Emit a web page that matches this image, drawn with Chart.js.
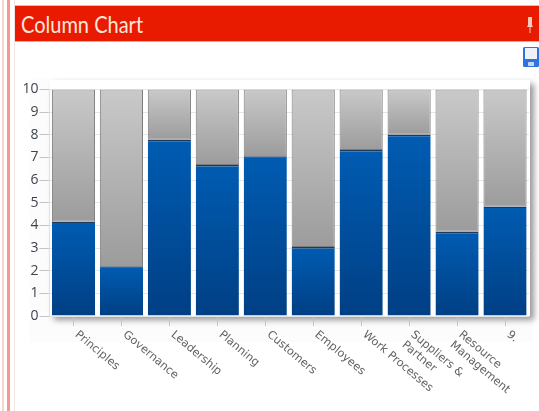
<!DOCTYPE html>
<html>
<head>
<meta charset="utf-8">
<title>Column Chart</title>
<script src="https://cdn.jsdelivr.net/npm/chart.js@4/dist/chart.umd.min.js"></script>
<style>
  html, body { margin: 0; padding: 0; background: #fff; overflow: hidden; }
  #page { position: relative; width: 539px; height: 411px; overflow: hidden; }
  #edgeA { position: absolute; left: 2px; top: 0; width: 2px; height: 411px; background: #f6d5d0; }
  #edgeB { position: absolute; left: 7px; top: 0; width: 3px; height: 411px; background: #f59a8e; }
  #edgeC { position: absolute; left: 14px; top: 0; width: 1px; height: 411px; background: #f3e4e1; }
  #header {
    position: absolute; left: 15px; top: 6px; width: 524px; height: 35px;
    background: #e81b00; box-shadow: 0 -1px 0 #f3b5ab, 0 1px 0 #e8a89f;
    color: #fde6dc; font: 23px/37px Lato, sans-serif;
  }
  #title { display: inline-block; margin-left: 6px; transform: scaleX(0.87); transform-origin: left center; }
  #pin { position: absolute; left: 510px; top: 10px; }
  #save { position: absolute; left: 523px; top: 47px; }
  #panel { position: absolute; left: 30px; top: 78px; width: 503px; height: 264px; background: #fcfcfc; }
  #plotShadow {
    position: absolute; left: 50px; top: 80px; width: 480px; height: 236px;
    background: #fff; box-shadow: 4px 4px 6px #999;
  }
  canvas { position: absolute; left: 0; top: 0; filter: blur(0.5px); }
</style>
</head>
<body>
<div id="page">
  <div id="edgeA"></div>
  <div id="edgeB"></div>
  <div id="edgeC"></div>
  <div id="header"><span id="title">Column Chart</span>
    <svg id="pin" width="10" height="18" viewBox="0 0 10 18">
      <path d="M3 1h4v8l1 2H2l1-2zM4.5 11h1v6h-1z" fill="#f9c9bd"/>
    </svg>
  </div>
  <svg id="save" width="16" height="20" viewBox="0 0 16 20">
    <rect width="16" height="20" rx="1.5" fill="#2f74dc"/>
    <rect x="2" y="1" width="12" height="11" fill="#eef3fb"/>
    <rect x="5" y="15" width="6" height="4" fill="#c9d6ea"/>
  </svg>
  <div id="panel"></div>
  <div id="plotShadow"></div>
  <canvas id="chart" width="539" height="411"></canvas>
</div>
<script>
const categories = [
  "Principles",
  "Governance",
  "Leadership",
  "Planning",
  "Customers",
  "Employees",
  "Work Processes",
  ["Suppliers &", "Partner"],
  ["Resource", "Management"],
  "9.",
];
const scores = [4.17, 2.2, 7.78, 6.67, 7.05, 3.05, 7.33, 8.0, 3.72, 4.83];
const remainder = [5.83, 7.8, 2.22, 3.33, 2.95, 6.95, 2.67, 2.0, 6.28, 5.17];
const yTicks = [0, 1, 2, 3, 4, 5, 6, 7, 8, 9, 10];

// Chart.js always right-aligns rotated x labels, these hang down from the tick
class SlantedScale extends Chart.CategoryScale {
  _getXAxisLabelAlignment() {
    return "left";
  }
}
SlantedScale.id = "slanted";
SlantedScale.defaults = Chart.CategoryScale.defaults;
Chart.register(SlantedScale);

// each segment has its own vertical gradient, top and base come from the stack
function segmentFill(top, bottom) {
  return (ctx) => {
    const yScale = ctx.chart.scales.y;
    if (!yScale || ctx.dataIndex === undefined) return top;
    const low = ctx.datasetIndex === 0 ? 0 : scores[ctx.dataIndex];
    const high = low + ctx.dataset.data[ctx.dataIndex];
    const y0 = yScale.getPixelForValue(high);
    const y1 = yScale.getPixelForValue(low);
    if (!Number.isFinite(y0) || !Number.isFinite(y1)) return top;
    const grad = ctx.chart.ctx.createLinearGradient(0, y0, 0, y1);
    grad.addColorStop(0, top);
    grad.addColorStop(1, bottom);
    return grad;
  };
}

new Chart(document.getElementById("chart"), {
  type: "bar",
  data: {
    labels: categories,
    datasets: [
      {
        label: "Score",
        data: scores,
        order: 1, // drawn over the grey so its dark top edge stays visible
        backgroundColor: segmentFill("#005cb2", "#003f84"),
        borderColor: "#1d3a5c",
        borderWidth: { top: 1.5 },
        borderSkipped: false,
        barPercentage: 0.9,
        categoryPercentage: 1,
      },
      {
        label: "Remainder",
        data: remainder,
        order: 2,
        backgroundColor: segmentFill("#c9c9c9", "#9c9c9c"),
        borderColor: "#7c7c7c",
        borderWidth: 1,
        borderSkipped: false,
        barPercentage: 0.9,
        categoryPercentage: 1,
      },
    ],
  },
  options: {
    responsive: false,
    animation: false,
    layout: { padding: { top: 89.5, right: 10, bottom: 0, left: 0 } },
    plugins: { legend: { display: false }, tooltip: { enabled: false } },
    scales: {
      x: {
        type: "slanted",
        stacked: true,
        afterFit: (scale) => { scale.height = 95; },
        grid: { offset: false, drawOnChartArea: false, color: "#c4c4c4", tickLength: 10 },
        border: { display: false },
        ticks: {
          color: "#626262",
          font: { family: "DejaVu Sans", size: 11.3 },
          minRotation: -40,
          maxRotation: -40,
          autoSkip: false,
          padding: 2,
          labelOffset: 3,
        },
      },
      y: {
        stacked: true,
        min: 0,
        max: 10,
        afterFit: (scale) => { scale.width = 49.5; },
        afterBuildTicks: (scale) => { scale.ticks = yTicks.map((value) => ({ value })); },
        grid: { color: "#e6e6e6", tickColor: "#c4c4c4", tickLength: 10 },
        border: { color: "#e0e0e0" },
        ticks: {
          color: "#3f4550",
          font: { family: "Open Sans", size: 14 },
          padding: 1,
        },
      },
    },
  },
});
</script>
</body>
</html>
